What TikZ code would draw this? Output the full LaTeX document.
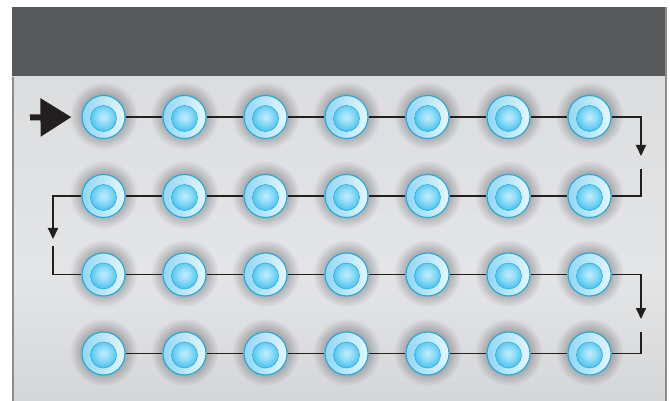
\documentclass[tikz,border=0pt]{standalone}
\usetikzlibrary{arrows.meta,fadings}
\definecolor{hdr}{HTML}{58595B}
\definecolor{ptop}{HTML}{D5D6D8}
\definecolor{pmid}{HTML}{E4E5E7}
\definecolor{pbot}{HTML}{C3C4C6}
\definecolor{pborder}{HTML}{8C8D8F}
\definecolor{lc}{HTML}{231F20}
\definecolor{ringedge}{HTML}{1BABE2}
\definecolor{ringL}{HTML}{92D7F3}
\definecolor{ringR}{HTML}{E6F6FD}
\definecolor{coreA}{HTML}{C4EDFB}
\definecolor{coreB}{HTML}{8DDBF7}
\definecolor{coreD}{HTML}{3CBDEC}
\definecolor{coreE}{HTML}{1CACE4}
\pgfdeclareverticalshading{panelshade}{100bp}{color(0bp)=(pbot); color(45bp)=(pmid); color(100bp)=(ptop)}
\pgfdeclareradialshading{coresh}{\pgfpointorigin}{color(0bp)=(coreA); color(8bp)=(coreB); color(18bp)=(coreD); color(25bp)=(coreE); color(50bp)=(coreE)}
\pgfdeclareradialshading{glowsh}{\pgfpointorigin}{color(0bp)=(pgftransparent!0); color(15bp)=(pgftransparent!0); color(25bp)=(pgftransparent!100); color(50bp)=(pgftransparent!100)}
\pgfdeclarefading{glowfade}{\pgfuseshading{glowsh}}
\tikzset{
  glow/.style={fill=black, fill opacity=0.26, path fading=glowfade},
  bead/.style={circle, minimum size=43pt, inner sep=0pt, draw=ringedge, line width=1.1pt,
    left color=ringL, right color=ringR,
    path picture={\shade[shading=coresh] ([yshift=-1.5pt]path picture bounding box.center) circle (13pt);
      \draw[coreE, line width=0.5pt] ([yshift=-1.5pt]path picture bounding box.center) circle (13pt);}},
  conn/.style={draw=lc, line width=1.8pt},
  tip/.style={-{Triangle[length=11pt,width=10pt]}},
}
\begin{document}
\begin{tikzpicture}[x=1pt,y=-1pt]
\useasboundingbox (0,0) rectangle (670,401);
\fill[white] (0,0) rectangle (670,401);
\fill[hdr] (12,7) rectangle (666,77);
\shade[shading=panelshade] (12,77) rectangle (666,401);
\draw[pborder, line width=1.6pt] (12.8,77) -- (12.8,401);
\draw[pborder, line width=2pt] (666,7) -- (666,401);
% glows
\foreach \r/\y in {1/117,2/196,3/274.5,4/353.5}{
  \foreach \c in {1,...,7}{
    \fill[glow] ({103.5+81*(\c-1)},{\y-1.5}) circle (34);
  }
}
% beads
\foreach \r/\y in {1/117,2/196,3/274.5,4/353.5}{
  \foreach \c in {1,...,7}{
    \node[bead] (b-\r-\c) at ({103.5+81*(\c-1)},\y) {};
  }
}
% row connectors
\foreach \r in {1,...,4}{
  \foreach \c [evaluate=\c as \cn using int(\c+1)] in {1,...,6}{
    \draw[conn] (b-\r-\c.east) -- (b-\r-\cn.west);
  }
}
% turns
\coordinate (t1) at (641,156);
\coordinate (s1) at (641,169);
\coordinate (t2) at (53,239);
\coordinate (s2) at (53,246);
\coordinate (t3) at (641,319);
\coordinate (s3) at (641,332);
\draw[conn, tip] (b-1-7.east) -| (t1);
\draw[conn] (s1) |- (b-2-7.east);
\draw[conn, tip] (b-2-1.west) -| (t2);
\draw[conn] (s2) |- (b-3-1.west);
\draw[conn, tip] (b-3-7.east) -| (t3);
\draw[conn] (s3) |- (b-4-7.east);
% entry arrow
\coordinate (in) at (30,117.5);
\draw[lc, line width=6pt, -{Triangle[length=31pt,width=37pt]}, shorten >=10pt] (in) -- (b-1-1.west);
\end{tikzpicture}
\end{document}
